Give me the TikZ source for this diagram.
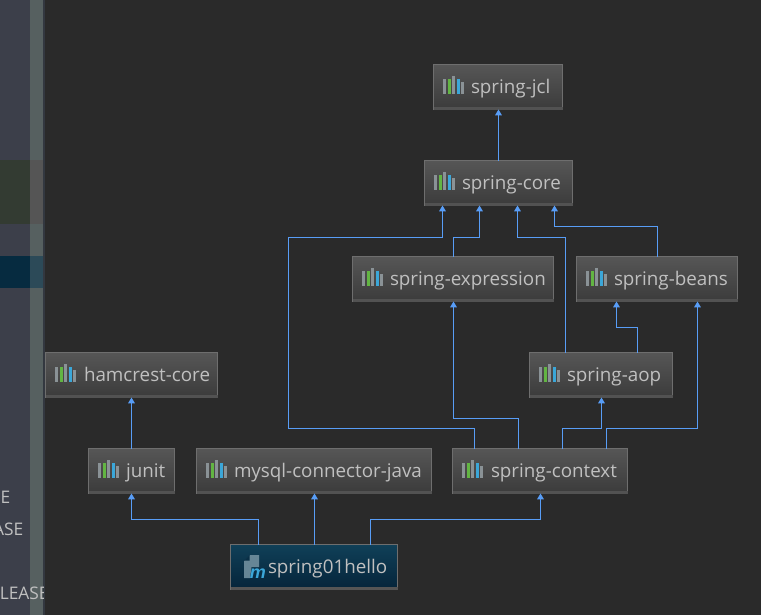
\documentclass[tikz,border=0pt]{standalone}
\usepackage{fontspec}
\setmainfont{Open Sans}
\newfontfamily\mfont{Liberation Sans}
\usetikzlibrary{arrows.meta}
\definecolor{bgd}{HTML}{2A2A2A}
\definecolor{edgec}{HTML}{589DF6}
\definecolor{boxline}{HTML}{6E6E6E}
\definecolor{boxtop}{HTML}{565656}
\definecolor{boxbot}{HTML}{3B3B3B}
\definecolor{boxstrip}{HTML}{525252}
\definecolor{txt}{HTML}{C0C0C0}
\definecolor{roottop}{HTML}{104058}
\definecolor{rootbot}{HTML}{05243A}
\definecolor{rootstrip}{HTML}{555555}
\definecolor{barg}{HTML}{8A9296}
\definecolor{barn}{HTML}{62B543}
\definecolor{barb}{HTML}{3BA7D9}
\definecolor{filec}{HTML}{668696}
\definecolor{sidea}{HTML}{3C3F4A}
\definecolor{sideb}{HTML}{566060}
\definecolor{sided}{HTML}{333840}
\definecolor{sidegreen}{HTML}{333B32}
\definecolor{sidegreenb}{HTML}{555555}
\definecolor{sideblue}{HTML}{062B40}
\definecolor{sidebluea}{HTML}{2C4A58}
\tikzset{x=0.75pt,y=-0.75pt,
  depbase/.style={draw=boxline,line width=0.8pt,text=txt,inner sep=0pt,outer sep=0pt,
    font=\fontsize{14.1pt}{15pt}\selectfont,text height=9pt,text depth=0pt},
  dep/.style={depbase,top color=boxtop,bottom color=boxbot},
  rootdep/.style={depbase,top color=roottop,bottom color=rootbot},
  link/.style={draw=edgec,line width=0.8pt,-{Triangle[length=4.4pt,width=5pt]}},
  sidetext/.style={text=txt,font=\fontsize{13pt}{15pt}\selectfont,inner sep=0pt},
}
% #1 style, #2 strip colour, #3 name, #4 label, #5 left, #6 top, #7 right, #8 bottom, #9 text x
\newcommand{\anybox}[9]{%
  \pgfmathsetlengthmacro{\bw}{(#7-#5-1)*0.75pt}\pgfmathsetlengthmacro{\bh}{(#8-#6-1)*0.75pt}\pgfmathsetlengthmacro{\bo}{(#9-#5-0.5)*0.75pt}%
  \node[#1,minimum width=\bw,minimum height=\bh] (#3) at ({(#5+#7)/2},{(#6+#8)/2})
     {\makebox[\bw][l]{\hspace*{\bo}#4}};
  \fill[#2] ({#5+0.5},{#8-3.5}) rectangle ({#7-0.5},{#8-0.5});
}
\newcommand{\bars}[2]{%
  \fill[barg] ({#1},{#2+6.5}) rectangle ++(3,-15);
  \fill[barn] ({#1+4.5},{#2+6.5}) rectangle ++(3,-15);
  \fill[barg] ({#1+9},{#2+6.5}) rectangle ++(3,-18);
  \fill[barb] ({#1+13.5},{#2+6.5}) rectangle ++(3,-15);
  \fill[barg] ({#1+18},{#2+6.5}) rectangle ++(3,-12);
}
\newcommand{\depbox}[7]{%
  \anybox{dep}{boxstrip}{#1}{#2}{#3}{#4}{#5}{#6}{#7}%
  \bars{#3+10}{(#4+#6)/2}%
}
\begin{document}
\begin{tikzpicture}
\useasboundingbox (0,0) rectangle (761,615);
\fill[bgd] (0,0) rectangle (761,615);
% side panel
\fill[sidea] (0,0) rectangle (30,615);
\fill[sideb] (30,0) rectangle (43,615);
\fill[sided] (43,0) rectangle (45,615);
\fill[sidegreen] (0,160) rectangle (30,224);
\fill[sidegreenb] (30,160) rectangle (43,224);
\fill[sideblue] (0,256) rectangle (30,288);
\fill[sidebluea] (30,256) rectangle (43,288);
\begin{scope}
  \clip (0,0) rectangle (43,615);
  \node[sidetext,anchor=base east] (sa) at (10.5,503) {E};
  \node[sidetext,anchor=base east] (sb) at (23.5,535) {ASE};
  \node[sidetext,anchor=base west] (sc) at (-0.5,599) {LEASE};
\end{scope}
% boxes
\depbox{jcl}{spring-jcl}{433}{64}{563}{110}{471}
\depbox{core}{spring-core}{424}{160}{573}{206}{462}
\depbox{expr}{spring-expression}{352}{256}{554}{302}{390}
\depbox{beans}{spring-beans}{576}{256}{738}{302}{614}
\depbox{aop}{spring-aop}{529}{352}{673}{398}{567}
\depbox{hamcrest}{hamcrest-core}{45}{352}{218}{398}{84}
\depbox{junit}{junit}{88}{448}{175}{494}{126}
\depbox{mysql}{mysql-connector-java}{196}{448}{432}{494}{234}
\depbox{context}{spring-context}{452}{448}{628}{494}{491}
\anybox{rootdep}{rootstrip}{root}{spring01hello}{230}{544}{398}{590}{268}
% root icon
\fill[filec] (250,555) -- (259,555) -- (259,567) -- (251.5,567) -- (250,578) -- (244,578) -- (244,561) -- cycle;
\fill[rootbot!60!roottop] (244,560.5) -- (249.5,555) -- (249.5,560.5) -- cycle;
\node[text=barb,font=\mfont\bfseries\itshape\fontsize{13.5pt}{15pt}\selectfont,inner sep=0pt,anchor=base west] (rootm) at (249.5,578) {m};
% routing points
\coordinate (z) at (498.5,0);
\coordinate (a) at (258.5,519.5);
\coordinate (b) at (370.5,519.5);
\coordinate (c) at (540.5,519.5);
\coordinate (d) at (474.5,428.5);
\coordinate (e) at (288.5,237.5);
\coordinate (f) at (442.5,237.5);
\coordinate (g) at (453.5,237.5);
\coordinate (h) at (479.5,237.5);
\coordinate (i) at (565.5,237.5);
\coordinate (j) at (517.5,237.5);
\coordinate (k) at (657.5,226.5);
\coordinate (l) at (554.5,226.5);
\coordinate (m) at (518.5,418.5);
\coordinate (n) at (453.5,418.5);
\coordinate (o) at (562.5,428.5);
\coordinate (p) at (601.5,428.5);
\coordinate (q) at (606.5,428.5);
\coordinate (r) at (697.5,428.5);
\coordinate (s) at (637.5,327.5);
\coordinate (t) at (616.5,327.5);
\coordinate (u) at (131.5,448);
\coordinate (v) at (314.5,448);
\coordinate (w) at (288.5,428.5);
% connectors
\draw[link] (core.north -| z) -- (jcl.south -| z);
\draw[link] (expr.north -| g) -- (g) -- (h) -- (core.south -| h);
\draw[link] (context.north -| d) -- (d) -- (w) -- (e) -- (f) -- (core.south -| f);
\draw[link] (aop.north -| i) -- (i) -- (j) -- (core.south -| j);
\draw[link] (beans.north -| k) -- (k) -- (l) -- (core.south -| l);
\draw[link] (context.north -| m) -- (m) -- (n) -- (expr.south -| n);
\draw[link] (context.north -| o) -- (o) -- (p) -- (aop.south -| p);
\draw[link] (context.north -| q) -- (q) -- (r) -- (beans.south -| r);
\draw[link] (aop.north -| s) -- (s) -- (t) -- (beans.south -| t);
\draw[link] (junit.north -| u) -- (hamcrest.south -| u);
\draw[link] (root.north -| a) -- (a) -- (a -| u) -- (junit.south -| u);
\draw[link] (root.north -| v) -- (mysql.south -| v);
\draw[link] (root.north -| b) -- (b) -- (c) -- (context.south -| c);
\end{tikzpicture}
\end{document}
